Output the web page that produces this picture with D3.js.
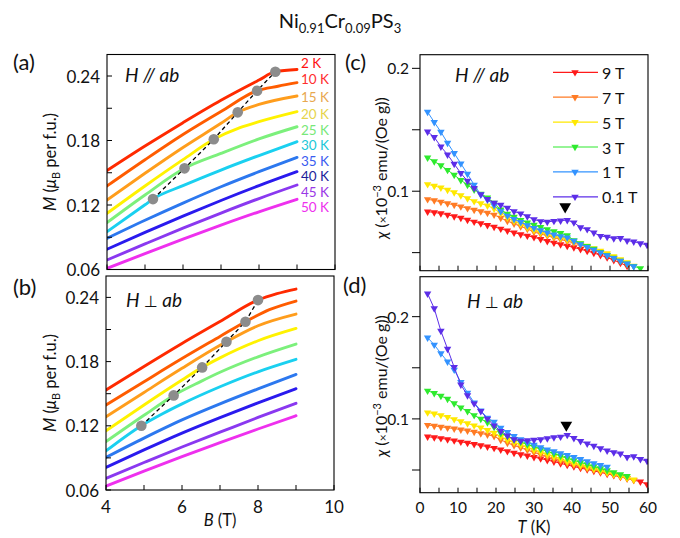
<!DOCTYPE html>
<html>
<head>
<meta charset="utf-8">
<script src="https://cdn.jsdelivr.net/npm/d3@7"></script>
<style>
  body { margin: 0; background: #fff; }
  svg { display: block; font-family: Lato, "Open Sans", sans-serif; }
</style>
</head>
<body>
<svg id="fig" width="680" height="538"></svg>
<script>
// ---------- data ----------
const tempLabels = ["2 K", "10 K", "15 K", "20 K", "25 K", "30 K", "35 K", "40 K", "45 K", "50 K"];
const tempColors = ["#ff2a00", "#ff5c00", "#ff9d1c", "#fff200", "#7cf07c", "#1ad0f0", "#2c78ef", "#2a1aee", "#8a38f0", "#ee30ee"];
const tempTextColors = ["#ff1010", "#ff2e2e", "#e8a850", "#e6d44a", "#78e878", "#20c8d8", "#3a5cf0", "#1c1c9a", "#9a38e6", "#ee30ee"];

// M(B) for H // ab, one list of [B (T), M (muB/f.u.)] per temperature
const mPar = [
  [[4, 0.152], [5, 0.1748], [6, 0.1966], [7, 0.2174], [8, 0.2362], [8.43, 0.244], [9, 0.246]],
  [[4, 0.1377], [5, 0.1621], [6, 0.1856], [7, 0.207], [7.95, 0.2263], [8.5, 0.2305], [9, 0.2338]],
  [[4, 0.1247], [5, 0.1495], [6, 0.1735], [7, 0.196], [7.44, 0.2062], [8, 0.2135], [9, 0.2214]],
  [[4, 0.1122], [5, 0.1377], [6, 0.1622], [6.81, 0.1811], [7.5, 0.192], [8, 0.1975], [9, 0.2068]],
  [[4, 0.1036], [5, 0.1293], [6.04, 0.1541], [7, 0.168], [8, 0.1815], [9, 0.1928]],
  [[4, 0.0952], [5, 0.1202], [5.21, 0.1255], [6, 0.138], [7, 0.1525], [8, 0.166], [9, 0.1789]],
  [[4, 0.089], [5, 0.1058], [6, 0.1218], [7, 0.137], [8, 0.151], [9, 0.1643]],
  [[4, 0.0788], [5, 0.0945], [6, 0.1097], [7, 0.1242], [8, 0.138], [9, 0.151]],
  [[4, 0.0688], [5, 0.0838], [6, 0.0985], [7, 0.1125], [8, 0.126], [9, 0.1386]],
  [[4, 0.061], [5, 0.0748], [6, 0.0883], [7, 0.1013], [8, 0.1137], [9, 0.1253]]
];
// M(B) for H perpendicular to ab
const mPerp = [
  [[4, 0.1534], [5, 0.1755], [6, 0.197], [7, 0.2175], [8, 0.2375], [8.5, 0.2435], [9, 0.2478]],
  [[4, 0.1394], [5, 0.1612], [6, 0.1828], [7, 0.2035], [7.67, 0.2173], [8.3, 0.2285], [9, 0.2366]],
  [[4, 0.1285], [5, 0.1512], [6, 0.1737], [7, 0.1952], [7.17, 0.1986], [8, 0.2135], [9, 0.2244]],
  [[4, 0.1154], [5, 0.1395], [6, 0.1628], [6.53, 0.1746], [7, 0.1835], [8, 0.1995], [9, 0.211]],
  [[4, 0.1052], [5, 0.1298], [5.78, 0.1484], [6.5, 0.1615], [7, 0.17], [8, 0.1845], [9, 0.1964]],
  [[4, 0.0965], [4.93, 0.1201], [5.5, 0.1315], [6, 0.1405], [7, 0.1565], [8, 0.1705], [9, 0.1821]],
  [[4, 0.0905], [5, 0.1085], [6, 0.1255], [7, 0.1405], [8, 0.1545], [9, 0.168]],
  [[4, 0.0812], [5, 0.0975], [6, 0.1132], [7, 0.1277], [8, 0.1415], [9, 0.1547]],
  [[4, 0.0709], [5, 0.0857], [6, 0.1002], [7, 0.114], [8, 0.1278], [9, 0.141]],
  [[4, 0.0637], [5, 0.0776], [6, 0.0912], [7, 0.1042], [8, 0.117], [9, 0.1294]]
];
// kink positions (grey dots), 30 K up to 2 K
const kinkPar = [[5.21, 0.1255], [6.04, 0.1541], [6.81, 0.1811], [7.44, 0.2062], [7.95, 0.2263], [8.43, 0.244]];
const kinkPerp = [[4.93, 0.1201], [5.78, 0.1484], [6.53, 0.1746], [7.17, 0.1986], [7.67, 0.2173], [8.0, 0.2375]];

// temperature grid of the chi(T) sweeps (K)
const tGrid = [2, 3.75, 5.5, 7.25, 9, 10.75, 12.5, 14.25, 16, 17.75, 19.5, 21.25, 23, 24.75, 26.5, 28.25, 30,
  31.75, 33.5, 35.25, 37, 38.75, 40.5, 42.25, 44, 45.75, 47.5, 49.25, 51, 52.75, 54.5, 56.25, 58, 59.75];

const fieldLabels = ["9 T", "7 T", "5 T", "3 T", "1 T", "0.1 T"];
const fieldColors = ["#ff1a1a", "#ff7b24", "#ffe800", "#2eea2e", "#3393ff", "#5c2ee8"];

// chi(T), H // ab (x1e-3 emu/(Oe g))
const chiPar9T = [0.0834, 0.0827, 0.0819, 0.0808, 0.0795, 0.0782, 0.0767, 0.0751, 0.0737, 0.0724, 0.0710, 0.0694, 0.0678, 0.0663, 0.0649, 0.0637, 0.0625, 0.0610, 0.0594, 0.0580, 0.0567, 0.0555, 0.0542, 0.0528, 0.0513, 0.0497, 0.0480, 0.0460, 0.0439, 0.0416, 0.0391];
const chiPar7T = [0.0934, 0.0925, 0.0913, 0.0900, 0.0888, 0.0875, 0.0861, 0.0848, 0.0836, 0.0823, 0.0808, 0.0782, 0.0757, 0.0735, 0.0714, 0.0693, 0.0668, 0.0652, 0.0637, 0.0622, 0.0607, 0.0593, 0.0578, 0.0561, 0.0543, 0.0523, 0.0502, 0.0481, 0.0458, 0.0432, 0.0405];
const chiPar5T = [0.1056, 0.1043, 0.1028, 0.1010, 0.0990, 0.0966, 0.0942, 0.0918, 0.0900, 0.0882, 0.0858, 0.0820, 0.0785, 0.0757, 0.0731, 0.0706, 0.0682, 0.0664, 0.0648, 0.0633, 0.0619, 0.0605, 0.0590, 0.0573, 0.0555, 0.0535, 0.0514, 0.0493, 0.0470, 0.0445, 0.0420, 0.0392];
const chiPar3T = [0.1273, 0.1242, 0.1210, 0.1172, 0.1132, 0.1090, 0.1051, 0.1012, 0.0978, 0.0948, 0.0905, 0.0850, 0.0815, 0.0790, 0.0765, 0.0745, 0.0725, 0.0707, 0.0690, 0.0673, 0.0658, 0.0640, 0.0600, 0.0575, 0.0552, 0.0530, 0.0505, 0.0480, 0.0457, 0.0433, 0.0410, 0.0390, 0.0372];
const chiPar1T = [0.1645, 0.1562, 0.1482, 0.1393, 0.1309, 0.1225, 0.1140, 0.1052, 0.0972, 0.0930, 0.0885, 0.0835, 0.0800, 0.0772, 0.0748, 0.0722, 0.0700, 0.0680, 0.0662, 0.0646, 0.0633, 0.0622, 0.0595, 0.0568, 0.0545, 0.0523, 0.0500, 0.0478, 0.0455, 0.0432, 0.0410, 0.0388];
const chiPar01T = [0.1485, 0.1440, 0.1362, 0.1298, 0.1222, 0.1146, 0.1083, 0.1024, 0.0975, 0.0935, 0.0905, 0.0888, 0.0865, 0.0835, 0.0818, 0.0795, 0.0770, 0.0755, 0.0750, 0.0757, 0.0760, 0.0765, 0.0745, 0.0705, 0.0690, 0.0662, 0.0635, 0.0628, 0.0615, 0.0618, 0.0598, 0.0590, 0.0575, 0.0563];

// chi(T), H perpendicular to ab
const chiPerp9T = [0.0826, 0.0818, 0.0810, 0.0800, 0.0788, 0.0776, 0.0764, 0.0752, 0.0740, 0.0728, 0.0715, 0.0698, 0.0683, 0.0668, 0.0653, 0.0640, 0.0626, 0.0612, 0.0597, 0.0582, 0.0565, 0.0549, 0.0534, 0.0519, 0.0505, 0.0491, 0.0477, 0.0462, 0.0448, 0.0432, 0.0418, 0.0402, 0.0385, 0.0360];
const chiPerp7T = [0.0940, 0.0932, 0.0922, 0.0913, 0.0905, 0.0895, 0.0885, 0.0872, 0.0858, 0.0845, 0.0830, 0.0795, 0.0765, 0.0740, 0.0718, 0.0695, 0.0672, 0.0650, 0.0628, 0.0607, 0.0587, 0.0567, 0.0549, 0.0532, 0.0515, 0.0500, 0.0484, 0.0468, 0.0452, 0.0435, 0.0418, 0.0402];
const chiPerp5T = [0.1062, 0.1052, 0.1035, 0.1018, 0.0996, 0.0975, 0.0955, 0.0935, 0.0915, 0.0890, 0.0862, 0.0825, 0.0795, 0.0770, 0.0745, 0.0720, 0.0696, 0.0672, 0.0650, 0.0627, 0.0605, 0.0582, 0.0563, 0.0545, 0.0527, 0.0510, 0.0493, 0.0475, 0.0458, 0.0440, 0.0422, 0.0405];
const chiPerp3T = [0.1275, 0.1252, 0.1225, 0.1195, 0.1152, 0.1111, 0.1075, 0.1035, 0.1000, 0.0965, 0.0920, 0.0860, 0.0830, 0.0800, 0.0775, 0.0750, 0.0728, 0.0705, 0.0683, 0.0660, 0.0638, 0.0615, 0.0595, 0.0575, 0.0555, 0.0535, 0.0515, 0.0495, 0.0477, 0.0458, 0.0440];
const chiPerp1T = [0.1795, 0.1725, 0.1640, 0.1560, 0.1480, 0.1360, 0.1255, 0.1160, 0.1080, 0.1010, 0.0970, 0.0912, 0.0870, 0.0830, 0.0800, 0.0770, 0.0745, 0.0722, 0.0700, 0.0682, 0.0663, 0.0645, 0.0625, 0.0605, 0.0585, 0.0565, 0.0548, 0.0530];
const chiPerp01T = [0.2225, 0.2080, 0.1860, 0.1685, 0.1505, 0.1335, 0.1230, 0.1150, 0.1075, 0.1000, 0.0935, 0.0880, 0.0835, 0.0800, 0.0785, 0.0790, 0.0795, 0.0800, 0.0808, 0.0818, 0.0825, 0.0842, 0.0812, 0.0782, 0.0758, 0.0735, 0.0712, 0.0690, 0.0672, 0.0660, 0.0625, 0.0632, 0.0605, 0.0588];

// transition markers (T, chi)
const arrowPar = [38.2, 0.0874];
const arrowPerp = [38.5, 0.094];

// ticks
const mTicks = [0.06, 0.12, 0.18, 0.24];
const mMinor = [0.09, 0.15, 0.21];
const bTicks = [4, 6, 8, 10];
const bMinor = [5, 7, 9];
const chiTicks = [0.1, 0.2];
const chiMinor = [0.05, 0.15];
const tTicks = [0, 10, 20, 30, 40, 50, 60];
const tMinor = [5, 15, 25, 35, 45, 55];

// ---------- drawing ----------
const svg = d3.select("#fig");
const defs = svg.append("defs");

function makePanel(id, x0, x1, y0, y1, xDom, yDom) {
  defs.append("clipPath").attr("id", "clip-" + id)
    .append("rect").attr("x", x0).attr("y", y1).attr("width", x1 - x0).attr("height", y0 - y1);
  const g = svg.append("g");
  return {
    g, x0, x1, y0, y1,
    x: d3.scaleLinear().domain(xDom).range([x0, x1]),
    y: d3.scaleLinear().domain(yDom).range([y0, y1]),
    plot: g.append("g").attr("clip-path", `url(#clip-${id})`)
  };
}

function frame(p) {
  p.g.append("rect").attr("x", p.x0).attr("y", p.y1)
    .attr("width", p.x1 - p.x0).attr("height", p.y0 - p.y1)
    .attr("fill", "none").attr("stroke", "#000").attr("stroke-width", 1.1);
}

function yTicks(p, major, minor, fmt, len, labelGap) {
  const all = major.concat(minor);
  p.g.selectAll(null).data(all).enter().append("line")
    .attr("x1", p.x0).attr("x2", p.x0 + len)
    .attr("y1", d => p.y(d)).attr("y2", d => p.y(d))
    .attr("stroke", "#000").attr("stroke-width", 1);
  p.g.selectAll(null).data(major).enter().append("text")
    .attr("x", p.x0 - labelGap).attr("y", d => p.y(d))
    .attr("text-anchor", "end").attr("dominant-baseline", "central")
    .attr("font-size", 17).attr("fill", "#111").text(d => fmt(d));
}

function xTicks(p, major, minor, len, labels, fontSize) {
  const all = major.concat(minor);
  p.g.selectAll(null).data(all).enter().append("line")
    .attr("x1", d => p.x(d)).attr("x2", d => p.x(d))
    .attr("y1", p.y0).attr("y2", p.y0 - len)
    .attr("stroke", "#000").attr("stroke-width", 1);
  if (labels) {
    p.g.selectAll(null).data(major).enter().append("text")
      .attr("x", d => p.x(d)).attr("y", 513)
      .attr("text-anchor", "middle").attr("font-size", fontSize).attr("fill", "#111")
      .text(d => d);
  }
}

function panelLabel(txt, x, y) {
  svg.append("text").attr("x", x).attr("y", y).attr("font-size", 22).attr("fill", "#111").text(txt);
}

function fieldNote(p, x, y, sym) {
  const t = p.g.append("text").attr("x", x).attr("y", y).attr("font-size", 19).attr("fill", "#111");
  t.append("tspan").attr("font-style", "italic").text("H ");
  t.append("tspan").attr("font-style", sym === "//" ? "italic" : "normal")
    .attr("font-family", sym === "//" ? null : "'DejaVu Sans', sans-serif")
    .attr("font-size", sym === "//" ? 19 : 16).text(sym);
  t.append("tspan").attr("font-style", "italic").text(" ab");
}

function mTitle(cx, cy) {
  const t = svg.append("text")
    .attr("transform", `translate(${cx},${cy}) rotate(-90)`)
    .attr("text-anchor", "middle").attr("font-size", 16.5).attr("fill", "#111");
  t.append("tspan").attr("font-style", "italic").text("M");
  t.append("tspan").text(" (");
  t.append("tspan").attr("font-style", "italic").text("\u03bc");
  t.append("tspan").attr("font-size", 11).attr("dy", 4).text("B");
  t.append("tspan").attr("dy", -4).text(" per f.u.)");
}

function chiTitle(cx, cy) {
  const t = svg.append("text")
    .attr("transform", `translate(${cx},${cy}) rotate(-90)`)
    .attr("text-anchor", "middle").attr("font-size", 16).attr("fill", "#111");
  t.append("tspan").attr("font-style", "italic").text("\u03c7");
  t.append("tspan").text(" (");
  t.append("tspan").attr("font-size", 12).text("\u00d7");
  t.append("tspan").text("10");
  t.append("tspan").attr("font-size", 11).attr("dy", -6).text("\u22123");
  t.append("tspan").attr("dy", 6).text(" emu/(Oe g))");
}

// ----- title -----
(function () {
  const t = svg.append("text").attr("x", 340).attr("y", 28).attr("text-anchor", "middle")
    .attr("font-size", 20).attr("fill", "#111");
  t.append("tspan").text("Ni");
  t.append("tspan").attr("font-size", 13).attr("dy", 5).text("0.91");
  t.append("tspan").attr("dy", -5).text("Cr");
  t.append("tspan").attr("font-size", 13).attr("dy", 5).text("0.09");
  t.append("tspan").attr("dy", -5).text("PS");
  t.append("tspan").attr("font-size", 13).attr("dy", 5).text("3");
})();

// ----- M(B) panels -----
// vertical offsets of the temperature labels from their curve ends
const labelNudge = [-6.5, -3.3, 0.6, 2.4, 2.9, 3.4, 3.2, 4.4, 6.6, 7.8];

function drawMPanel(p, curves, kinks, withLabels) {
  const line = d3.line().x(d => p.x(d[0])).y(d => p.y(d[1])).curve(d3.curveMonotoneX);
  curves.forEach((c, i) => {
    p.plot.append("path").attr("d", line(c)).attr("fill", "none")
      .attr("stroke", tempColors[i]).attr("stroke-width", 2.9).attr("stroke-linecap", "round");
  });
  p.plot.append("path").attr("d", d3.line().x(d => p.x(d[0])).y(d => p.y(d[1]))(kinks))
    .attr("fill", "none").attr("stroke", "#000").attr("stroke-width", 1.3).attr("stroke-dasharray", "4,3");
  p.plot.selectAll(null).data(kinks).enter().append("circle")
    .attr("cx", d => p.x(d[0])).attr("cy", d => p.y(d[1])).attr("r", 5.3).attr("fill", "#8c8c8c");
  if (withLabels) {
    curves.forEach((c, i) => {
      const end = c[c.length - 1];
      p.g.append("text").attr("x", p.x(end[0]) + 4).attr("y", p.y(end[1]) + labelNudge[i])
        .attr("dominant-baseline", "central").attr("font-size", 13.5)
        .attr("fill", tempTextColors[i]).text(tempLabels[i]);
    });
  }
}

const pa = makePanel("a", 107, 335, 269.5, 54.5, [4, 10], [0.06, 0.26]);
drawMPanel(pa, mPar, kinkPar, true);
frame(pa);
yTicks(pa, mTicks, mMinor, d3.format(".2f"), 5, 7);
xTicks(pa, bTicks, bMinor, 5, false);
fieldNote(pa, 125, 82, "//");

const pb = makePanel("b", 106, 334, 490, 276, [4, 10], [0.06, 0.26]);
drawMPanel(pb, mPerp, kinkPerp, false);
frame(pb);
yTicks(pb, mTicks, mMinor, d3.format(".2f"), 5, 7);
xTicks(pb, bTicks, bMinor, 5, true, 17);
fieldNote(pb, 126, 307, "\u22a5");

panelLabel("(a)", 13, 70);
panelLabel("(b)", 13, 295);
mTitle(56, 162);
mTitle(56, 383);
(function () {
  const t = svg.append("text").attr("x", 220).attr("y", 526).attr("text-anchor", "middle")
    .attr("font-size", 16.5).attr("fill", "#111");
  t.append("tspan").attr("font-style", "italic").text("B");
  t.append("tspan").text(" (T)");
})();

// ----- chi(T) panels -----
const triDown = d3.symbol().type(d3.symbolTriangle).size(24);

function drawChiPanel(p, series, arrow) {
  // high field first so the low-field sweeps sit on top
  series.forEach((vals, i) => {
    const pts = vals.map((v, k) => [tGrid[k], v]);
    const col = fieldColors[i];
    p.plot.append("path")
      .attr("d", d3.line().x(d => p.x(d[0])).y(d => p.y(d[1]))(pts))
      .attr("fill", "none").attr("stroke", col).attr("stroke-width", 1);
    p.plot.selectAll(null).data(pts).enter().append("path")
      .attr("d", triDown)
      .attr("transform", d => `translate(${p.x(d[0])},${p.y(d[1])}) rotate(180)`)
      .attr("fill", col);
  });
  p.g.append("path")
    .attr("d", d3.symbol().type(d3.symbolTriangle).size(60))
    .attr("transform", `translate(${p.x(arrow[0])},${p.y(arrow[1])}) rotate(180)`)
    .attr("fill", "#000");
}

function chiYTicks(p) {
  const all = chiTicks.concat(chiMinor);
  p.g.selectAll(null).data(all).enter().append("line")
    .attr("x1", p.x0 - 8).attr("x2", p.x0)
    .attr("y1", d => p.y(d)).attr("y2", d => p.y(d))
    .attr("stroke", "#000").attr("stroke-width", 1);
  p.g.selectAll(null).data(chiTicks).enter().append("text")
    .attr("x", p.x0 - 11).attr("y", d => p.y(d))
    .attr("text-anchor", "end").attr("dominant-baseline", "central")
    .attr("font-size", 15.5).attr("fill", "#111").text(d => d3.format(".1f")(d));
}

const pc = makePanel("c", 420, 648, 270.7, 54.7, [0, 60], [0.0353, 0.2111]);
drawChiPanel(pc, [chiPar9T, chiPar7T, chiPar5T, chiPar3T, chiPar1T, chiPar01T], arrowPar);
frame(pc);
chiYTicks(pc);
xTicks(pc, tTicks, tMinor, 5, false);
fieldNote(pc, 455, 82, "//");

// legend
(function () {
  const lg = svg.append("g");
  fieldLabels.forEach((lab, i) => {
    const y = 72.3 + i * 24.9;
    lg.append("line").attr("x1", 553).attr("x2", 598).attr("y1", y).attr("y2", y)
      .attr("stroke", fieldColors[i]).attr("stroke-width", 1.2);
    lg.append("path").attr("d", triDown)
      .attr("transform", `translate(575,${y}) rotate(180)`).attr("fill", fieldColors[i]);
    lg.append("text").attr("x", 602).attr("y", y).attr("dominant-baseline", "central")
      .attr("font-size", 16).attr("fill", "#111").text(lab);
  });
})();

const pd = makePanel("d", 420, 648, 492.7, 276.7, [0, 60], [0.0278, 0.2391]);
drawChiPanel(pd, [chiPerp9T, chiPerp7T, chiPerp5T, chiPerp3T, chiPerp1T, chiPerp01T], arrowPerp);
frame(pd);
chiYTicks(pd);
xTicks(pd, tTicks, tMinor, 5, true, 15.5);
fieldNote(pd, 467, 308, "\u22a5");

panelLabel("(c)", 345, 70);
panelLabel("(d)", 343, 293);
chiTitle(387, 168);
chiTitle(387, 386);
(function () {
  const t = svg.append("text").attr("x", 534).attr("y", 533).attr("text-anchor", "middle")
    .attr("font-size", 16.5).attr("fill", "#111");
  t.append("tspan").attr("font-style", "italic").text("T");
  t.append("tspan").text(" (K)");
})();
</script>
</body>
</html>
